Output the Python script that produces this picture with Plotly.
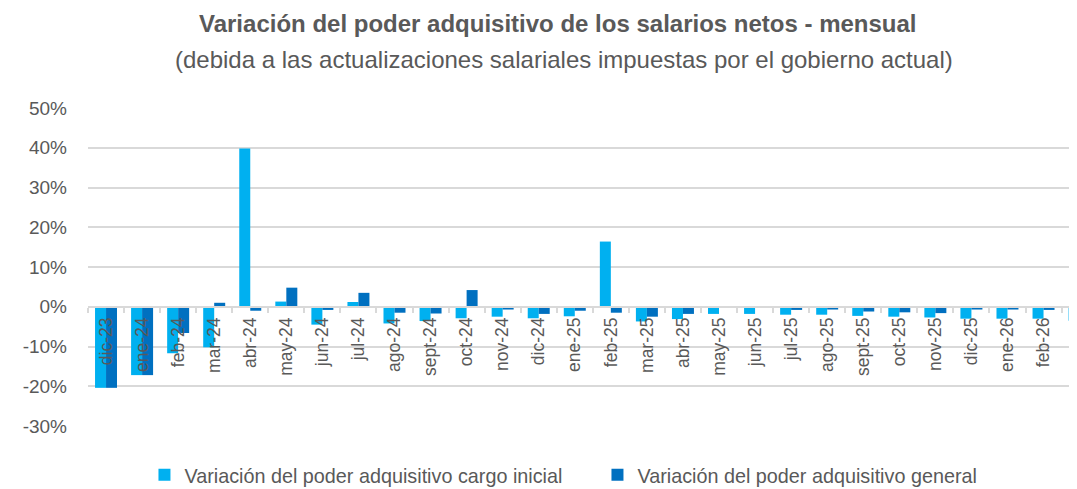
import plotly.graph_objects as go

categories = ["dic-23", "ene-24", "feb-24", "mar-24", "abr-24", "may-24", "jun-24", "jul-24",
              "ago-24", "sept-24", "oct-24", "nov-24", "dic-24", "ene-25", "feb-25", "mar-25",
              "abr-25", "may-25", "jun-25", "jul-25", "ago-25", "sept-25", "oct-25", "nov-25",
              "dic-25", "ene-26", "feb-26", "mar-26"]

cargo_inicial = [-20.4, -17.2, -11.7, -10.2, 39.8, 1.3, -4.5, 1.2,
                 -4.2, -3.6, -2.9, -2.5, -2.9, -2.4, 16.4, -3.7,
                 -3.1, -1.8, -1.8, -2.0, -2.0, -2.3, -2.5, -2.7,
                 -3.0, -3.0, -3.0, -3.5]

general = [-20.4, -17.2, -6.6, 1.0, -1.0, 4.8, -0.8, 3.5,
           -1.5, -1.7, 4.2, -0.7, -1.8, -1.0, -1.5, -2.5,
           -1.8, -0.3, -0.3, -0.8, -0.7, -1.2, -1.4, -1.6,
           -0.7, -0.7, -0.8, -0.8]

series_names = ["Variación del poder adquisitivo cargo inicial",
                "Variación del poder adquisitivo general"]

y_ticks = [-30, -20, -10, 0, 10, 20, 30, 40, 50]
y_tick_labels = [f"{v}%" for v in y_ticks]

title_text = "Variación del poder adquisitivo de los salarios netos - mensual"
subtitle_text = "(debida a las actualizaciones salariales impuestas por el gobierno actual)"

FONT = "Liberation Sans, Arial, sans-serif"
TXT = "#595959"
GRID = "#D9D9D9"

fig = go.Figure()
fig.add_trace(go.Bar(x=categories, y=cargo_inicial, name=series_names[0],
                     marker=dict(color="#00B0F0", line=dict(width=0))))
fig.add_trace(go.Bar(x=categories, y=general, name=series_names[1],
                     marker=dict(color="#0070C0", line=dict(width=0))))

ymin, ymax = -30, 50
fig.update_layout(
    width=1077, height=489,
    margin=dict(l=80, r=0, t=100, b=71),
    paper_bgcolor="white", plot_bgcolor="white",
    barmode="group", bargap=0.39, bargroupgap=0,
    font=dict(family=FONT, color=TXT),
    legend=dict(orientation="h", x=0.511, xanchor="center", y=-0.154, yanchor="middle",
                font=dict(size=19.8, family=FONT, color=TXT),
                entrywidth=408, entrywidthmode="pixels"),
    xaxis=dict(
        type="category", range=[-0.5, len(categories) - 0.85], automargin=False,
        anchor="free", position=(0 - ymin) / (ymax - ymin),
        showline=True, linecolor=GRID, linewidth=1.5,
        ticks="outside", tickson="boundaries", ticklen=5, tickcolor=GRID, tickwidth=1.5,
        tickangle=-90, tickfont=dict(size=17.5, family=FONT, color=TXT),
        ticklabelstandoff=3,
        showgrid=False,
    ),
    yaxis=dict(
        range=[ymin, ymax], tickmode="array", tickvals=y_ticks, ticktext=y_tick_labels,
        automargin=False,
        showgrid=True, gridcolor=GRID, gridwidth=1.5, zeroline=False,
        tickfont=dict(size=19, family=FONT, color=TXT), ticklabelstandoff=20,
        showline=False,
    ),
    annotations=[
        dict(text=f"<b>{title_text}</b>", x=0.471, xref="paper", y=1.267, yref="paper",
             xanchor="center", yanchor="middle", showarrow=False,
             font=dict(size=24, family=FONT, color=TXT)),
        dict(text=subtitle_text, x=0.477, xref="paper", y=1.154, yref="paper",
             xanchor="center", yanchor="middle", showarrow=False,
             font=dict(size=24, family=FONT, color=TXT)),
    ],
)

fig.write_html("out.html")
